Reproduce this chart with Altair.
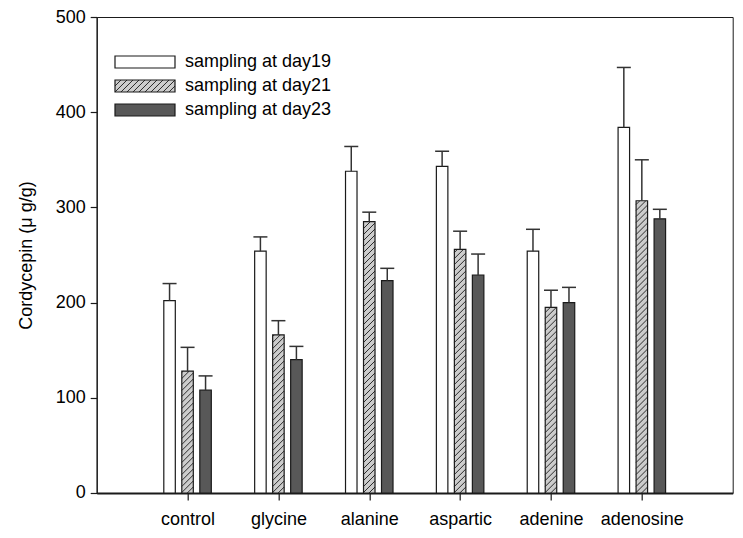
import json
import altair as alt
import pandas as pd

# ---------------- data ----------------
categories = ["control", "glycine", "alanine", "aspartic", "adenine", "adenosine"]
series = ["sampling at day19", "sampling at day21", "sampling at day23"]
day19 = [202, 254, 338, 343, 254, 384]
day19_err = [18, 15, 26, 16, 23, 63]
day21 = [128, 166, 285, 256, 195, 307]
day21_err = [25, 15, 10, 19, 18, 43]
day23 = [108, 140, 223, 229, 200, 288]
day23_err = [15, 14, 13, 22, 16, 10]
y_ticks = [0, 100, 200, 300, 400, 500]

rows = []
for j, (vals, errs) in enumerate([(day19, day19_err), (day21, day21_err), (day23, day23_err)]):
    for i, c in enumerate(categories):
        rows.append({"cat": c, "ci": i, "series": series[j], "sj": j,
                     "value": vals[i], "err": errs[i]})
df = pd.DataFrame(rows)
legend_df = pd.DataFrame({"series": series})

# ---------------- layout constants ----------------
FONT = "Liberation Sans"
FS = 18
W, H = 636, 476
XMAX = len(categories) + 1
YMAX = 500
ux = XMAX / W          # x data units per pixel
uy = YMAX / H          # y data units per pixel
GAP = 18               # px between bar centres
BW = 11.5              # bar width px
CAP = 14               # error cap width px
HH = BW * uy           # hatch rise (45 deg)
SP = 6 * uy            # hatch spacing
INK = "#1a1a1a"
fills = ["#ffffff", "#cccccc", "#585858"]

xs = alt.Scale(domain=[0, XMAX], nice=False, zero=False)
ys = alt.Scale(domain=[0, YMAX], nice=False)
label_expr = json.dumps(categories) + "[datum.value - 1]"
xaxis = alt.Axis(values=list(range(1, len(categories) + 1)), labelExpr=label_expr,
                 grid=False, tickSize=7, labelPadding=11, domainWidth=1.8)
yaxis = alt.Axis(values=y_ticks, grid=False, tickSize=6.5, labelPadding=5,
                 titlePadding=20, domainWidth=1.2)
YT = "Cordycepin (\u03bc g/g)"


def X(f):
    return alt.X(f, scale=xs, axis=xaxis, title=None)


def Y(f):
    return alt.Y(f, scale=ys, axis=yaxis, title=YT)


fill_scale = alt.Scale(domain=series, range=fills)

base = alt.Chart(df).transform_calculate(
    xc=f"datum.ci + 1 + (datum.sj - 1) * {GAP * ux}"
).transform_calculate(
    xl=f"datum.xc - {BW / 2 * ux}",
    xr=f"datum.xc + {BW / 2 * ux}",
    top="datum.value + datum.err",
    cl=f"datum.xc - {CAP / 2 * ux}",
    cr=f"datum.xc + {CAP / 2 * ux}",
)

bars = base.mark_rect(strokeWidth=0).encode(
    x=X("xl:Q"), x2="xr:Q", y=Y("value:Q"), y2=alt.datum(0),
    fill=alt.Fill("series:N", scale=fill_scale, legend=None),
)

hatch = base.transform_filter(alt.datum.sj == 1).transform_calculate(
    ks=f"sequence(0, ceil((datum.value + {HH}) / {SP}) + 1)"
).transform_flatten(["ks"]).transform_calculate(
    y0=f"-{HH} + datum.ks * {SP}"
).transform_calculate(
    ya="max(datum.y0, 0)",
    yb=f"min(datum.y0 + {HH}, datum.value)",
).transform_calculate(
    xa=f"datum.xl + (datum.ya - datum.y0) / {HH} * (datum.xr - datum.xl)",
    xb=f"datum.xl + (datum.yb - datum.y0) / {HH} * (datum.xr - datum.xl)",
).transform_filter("datum.yb > datum.ya + 0.01").mark_rule(
    color=INK, strokeWidth=0.9
).encode(x=X("xa:Q"), x2="xb:Q", y=Y("ya:Q"), y2="yb:Q")

outline = base.mark_rect(fillOpacity=0, stroke=INK, strokeWidth=1.2).encode(
    x=X("xl:Q"), x2="xr:Q", y=Y("value:Q"), y2=alt.datum(0),
)

err_v = base.mark_rule(color="#333333", strokeWidth=1.5).encode(
    x=X("xc:Q"), y=Y("value:Q"), y2="top:Q"
)
err_cap = base.mark_rule(color="#333333", strokeWidth=1.5).encode(
    x=X("cl:Q"), x2="cr:Q", y=Y("top:Q")
)

main = alt.layer(bars, hatch, outline, err_v, err_cap)

# ---------------- legend (inside plot) ----------------
RECT = "M-1,-0.2H1V0.2H-1Z"
segs = []
x0 = -1.4
while x0 < 1.0:
    tmin = max(0.0, (-1 - x0) / 0.4)
    tmax = min(1.0, (1 - x0) / 0.4)
    if tmax > tmin:
        xa, ya = x0 + 0.4 * tmin, 0.2 - 0.4 * tmin
        xb, yb = x0 + 0.4 * tmax, 0.2 - 0.4 * tmax
        segs.append(f"M{xa:.3f},{ya:.3f}L{xb:.3f},{yb:.3f}")
    x0 += 0.2
HPATH = "".join(segs)
SYM = 60 ** 2

leg_y = alt.Y("series:N", scale=alt.Scale(type="point", domain=series, range=[45, 93], padding=0),
              axis=None)
leg_rect = alt.Chart(legend_df).mark_point(
    shape=RECT, size=SYM, filled=True, opacity=1, stroke=INK, strokeWidth=1.2
).encode(x=alt.value(48.3), y=leg_y, fill=alt.Fill("series:N", scale=fill_scale, legend=None))
leg_hatch = alt.Chart(legend_df).transform_filter(alt.datum.series == series[1]).mark_point(
    shape=HPATH, size=SYM, filled=False, opacity=1, stroke=INK, strokeWidth=0.9
).encode(x=alt.value(48.3), y=leg_y)
leg_text = alt.Chart(legend_df).mark_text(
    align="left", baseline="middle", fontSize=FS, font=FONT, color="black"
).encode(x=alt.value(88.3), y=leg_y, text="series:N")
legend = alt.layer(leg_rect, leg_hatch, leg_text)

chart = alt.layer(main, legend).resolve_scale(y="independent").properties(
    width=W, height=H,
    autosize=alt.AutoSizeParams(type="none"),
    padding={"left": 88.7, "top": 9, "right": 2, "bottom": 42},
).configure_view(stroke=INK, strokeWidth=1).configure_axis(
    labelFont=FONT, titleFont=FONT, labelFontSize=FS, titleFontSize=FS,
    titleFontWeight="normal", labelColor="black", titleColor="black",
    domainColor=INK, tickColor=INK, tickWidth=1.2,
)

chart.save("out.html", embed_options={"renderer": "svg", "actions": False})
